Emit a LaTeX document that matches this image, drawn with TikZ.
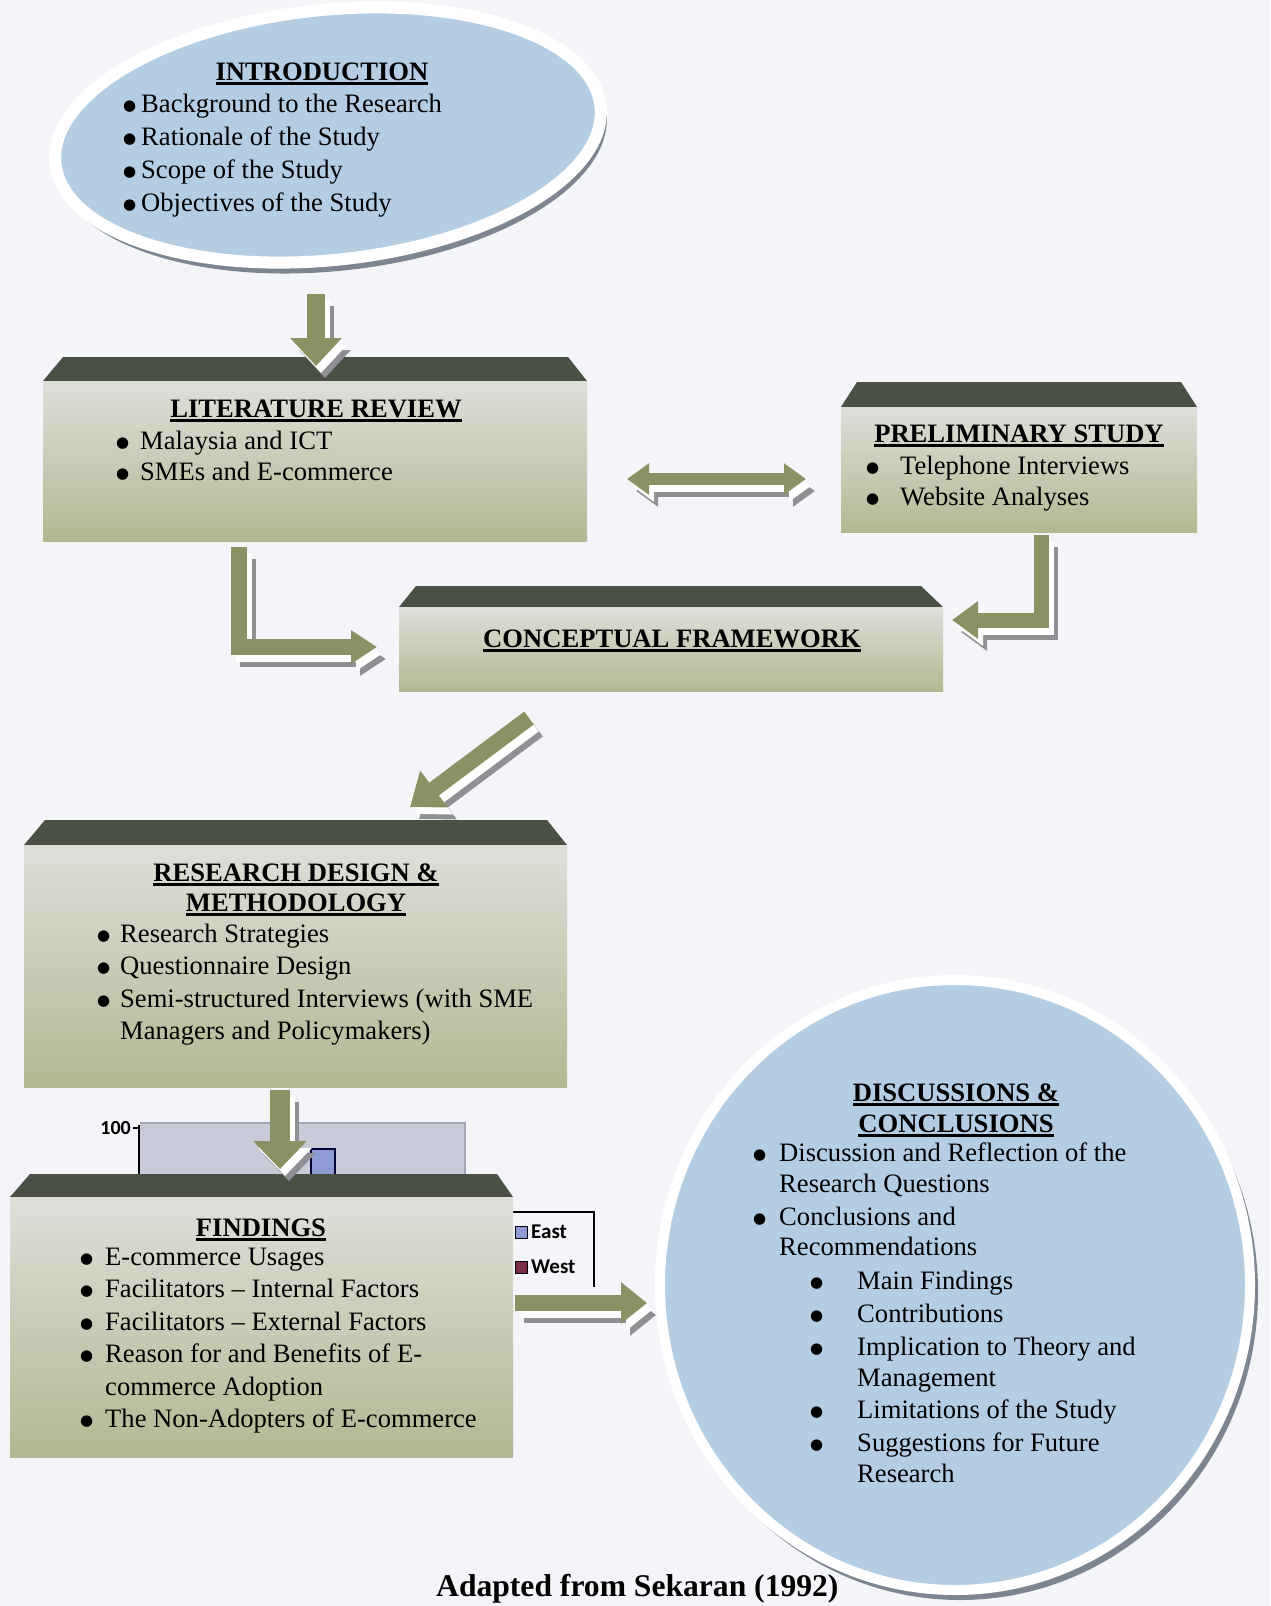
\documentclass[tikz,border=0pt]{standalone}
\usepackage{graphicx}
\usepackage{fontspec}
\setmainfont{Liberation Serif}
\newfontfamily\chartfont{Carlito}
\newfontfamily\symfont{DejaVu Sans}
\usetikzlibrary{arrows.meta,shapes.geometric,calc}
\definecolor{pagebg}{HTML}{F3F5F9}
\definecolor{ellfill}{HTML}{B5CDE3}
\definecolor{ellrim}{HTML}{7D8690}
\definecolor{bandc}{HTML}{4B5045}
\definecolor{faceT}{HTML}{DEDFDA}
\definecolor{faceB}{HTML}{B3B892}
\definecolor{arrowc}{HTML}{8A9263}
\definecolor{shadowc}{HTML}{8E9094}
\definecolor{plotc}{HTML}{C9CAD8}
\definecolor{plotedge}{HTML}{A4A6B8}
\definecolor{eastc}{HTML}{8F9BD4}
\definecolor{westc}{HTML}{7B2C48}
\newcommand\ulbox[1]{\setbox0\hbox{#1}\rlap{\rule[-4.5pt]{\wd0}{2.2pt}}\box0}
\newcommand\bul{{\symfont\fontsize{15}{15}\selectfont\raisebox{1.5pt}{●}}}
\newcommand\bevbox[8]{%
  \fill[bandc] (#4,#6) -- (#5,#6) -- (#3,#7) -- (#2,#7) -- cycle;
  \node[face, minimum width=#3pt-#2pt, minimum height=#8pt-#7pt, anchor=north west] (#1) at (#2,#7) {};}
\newcommand\bl[5]{\node[bt] (#1b) at (#2,#4) {\bul}; \node[txt] (#1) at (#3,#4) {#5};}
\newcommand\cl[4]{\node[txt] (#1) at (#2,#3) {#4};}
\newcommand\tl[4]{\node[ttl] (#1) at (#2,#3) {\ulbox{#4}};}
\newcommand\barrow[2]{%
  \draw[#1, shadowc, transform canvas={shift={(9,12)}}] #2;
  \draw[#1, white, transform canvas={shift={(5,7)}}] #2;
  \draw[#1, arrowc] #2;}
\tikzset{
  txt/.style={font=\fontsize{26.6}{32.8}\selectfont, inner sep=0pt, anchor=base west},
  bt/.style={inner sep=0pt, anchor=base west},
  ttl/.style={font=\fontsize{26.6}{32.8}\selectfont\bfseries, inner sep=0pt, anchor=base},
  face/.style={rectangle, inner sep=0pt, outer sep=0pt, top color=faceT, bottom color=faceB, draw=none},
  ba/.style n args={3}{line width=#1, line join=miter, -{Triangle[width=#2,length=#3]}},
  bad/.style n args={3}{line width=#1, {Triangle[width=#2,length=#3]}-{Triangle[width=#2,length=#3]}},
  chart/.style={font=\chartfont\bfseries\fontsize{21}{24}\selectfont, inner sep=0pt}
}
\begin{document}
\begin{tikzpicture}[x=1pt,y=-1pt]
\useasboundingbox (0,0) rectangle (1270,1606);
\clip (0,0) rectangle (1270,1606);
\fill[pagebg] (0,0) rectangle (1270,1606);

% chart fragment behind FINDINGS
\fill[plotc] (140,1123) rectangle (465,1200);
\draw[plotedge, line width=1.5pt] (140,1123) -- (465,1123) -- (465,1200);
\draw[black, line width=2pt] (139,1125) -- (139,1200);
\draw[black, line width=1.5pt] (133,1128) -- (139,1128);
\node[chart, anchor=east, font=\chartfont\bfseries\fontsize{20}{22}\selectfont] (lab100) at (131,1128) {100};
\node[chart, anchor=east, font=\chartfont\bfseries\fontsize{20}{22}\selectfont] (lab80) at (131,1182) {80};
\draw[fill=eastc, draw=black!80!blue, line width=2pt] (311,1149) rectangle (335,1180);
\draw[black, line width=2pt] (505,1212) -- (594,1212) -- (594,1287);
\draw[fill=eastc, draw=black, line width=1pt] (515,1226) rectangle (527,1238);
\draw[fill=westc, draw=black, line width=1pt] (515,1261) rectangle (527,1273);
\node[chart, anchor=west] (east) at (531,1232) {East};
\node[chart, anchor=west] (west) at (531,1267) {West};

% ellipses
\node[ellipse, fill=ellrim, minimum width=552pt, minimum height=258pt, rotate=6, inner sep=0pt] (introsh) at (332,142) {};
\node[ellipse, fill=ellfill, draw=white, line width=12pt, minimum width=548pt, minimum height=250pt, rotate=6, inner sep=0pt] (intro) at (328,135) {};
\node[ellipse, fill=ellrim, minimum width=596pt, minimum height=616pt, inner sep=0pt] (discsh) at (960,1292) {};
\node[ellipse, fill=ellfill, draw=white, line width=10pt, minimum width=590pt, minimum height=610pt, inner sep=0pt] (disc) at (955,1285) {};

% boxes: name, x1, x2, topx1, topx2, ytop, yband, ybottom
\bevbox{lit}{43}{587}{63}{568}{357}{381}{541}
\bevbox{pre}{841}{1197}{857}{1181}{382}{407}{532}
\bevbox{con}{399}{943}{416}{921}{586}{607}{691}
\bevbox{res}{24}{567}{45}{547}{820}{845}{1087}
\bevbox{fin}{10}{513}{30}{497}{1174}{1197}{1457}

% connectors
\coordinate (a1s) at (316,294); \coordinate (a1e) at (316,366);
\coordinate (a2s) at (627,479); \coordinate (a2e) at (806,479);
\coordinate (a3s) at (239,547); \coordinate (a3m) at (239,647); \coordinate (a3e) at (377,647);
\coordinate (a4s) at (1041,535); \coordinate (a4m) at (1041,620); \coordinate (a4e) at (952,620);
\coordinate (a5s) at (529,718); \coordinate (a5e) at (410,807);
\coordinate (a6s) at (280,1090); \coordinate (a6e) at (280,1169);
\coordinate (a7s) at (515,1303); \coordinate (a7e) at (647,1303);
\barrow{ba={18pt}{50pt}{28pt}}{(a1s) -- (a1e)}
\barrow{bad={12pt}{30pt}{22pt}}{(a2s) -- (a2e)}
\barrow{ba={16pt}{32pt}{26pt}}{(a3s) -- (a3m) -- (a3e)}
\barrow{ba={15pt}{36pt}{26pt}}{(a4s) -- (a4m) -- (a4e)}
\barrow{ba={16pt}{44pt}{30pt}}{(a5s) -- (a5e)}
\barrow{ba={20pt}{52pt}{28pt}}{(a6s) -- (a6e)}
\barrow{ba={16pt}{40pt}{26pt}}{(a7s) -- (a7e)}

% INTRODUCTION
\tl{introt}{322}{80}{INTRODUCTION}
\bl{i1}{123}{141}{112}{Background to the Research}
\bl{i2}{123}{141}{145}{Rationale of the Study}
\bl{i3}{123}{141}{178}{Scope of the Study}
\bl{i4}{123}{141}{211}{Objectives of the Study}

% LITERATURE REVIEW
\tl{litt}{316}{417}{LITERATURE REVIEW}
\bl{l1}{116}{140}{449}{Malaysia and ICT}
\bl{l2}{116}{140}{480}{SMEs and E-commerce}

% PRELIMINARY STUDY
\tl{pret}{1019}{442}{PRELIMINARY STUDY}
\bl{p1}{866}{900}{474}{Telephone Interviews}
\bl{p2}{866}{900}{505}{Website Analyses}

% CONCEPTUAL FRAMEWORK
\tl{cont}{672}{647}{CONCEPTUAL FRAMEWORK}

% RESEARCH DESIGN
\tl{rest1}{296}{881}{RESEARCH DESIGN \&}
\tl{rest2}{296}{911}{METHODOLOGY}
\bl{r1}{97}{120}{942}{Research Strategies}
\bl{r2}{97}{120}{974}{Questionnaire Design}
\bl{r3}{97}{120}{1007}{Semi-structured Interviews (with SME}
\cl{r4}{120}{1039}{Managers and Policymakers)}

% FINDINGS
\tl{fint}{261}{1236}{FINDINGS}
\bl{f1}{80}{105}{1265}{E-commerce Usages}
\bl{f2}{80}{105}{1297}{Facilitators – Internal Factors}
\bl{f3}{80}{105}{1330}{Facilitators – External Factors}
\bl{f4}{80}{105}{1362}{Reason for and Benefits of E-}
\cl{f5}{105}{1395}{commerce Adoption}
\bl{f6}{80}{105}{1427}{The Non-Adopters of E-commerce}

% DISCUSSIONS
\tl{dist1}{956}{1101}{DISCUSSIONS \&}
\tl{dist2}{956}{1132}{CONCLUSIONS}
\bl{d1}{753}{779}{1161}{Discussion and Reflection of the}
\cl{d2}{779}{1192}{Research Questions}
\bl{d3}{753}{779}{1225}{Conclusions and}
\cl{d4}{779}{1255}{Recommendations}
\bl{s1}{810}{857}{1289}{Main Findings}
\bl{s2}{810}{857}{1322}{Contributions}
\bl{s3}{810}{857}{1355}{Implication to Theory and}
\cl{s4}{857}{1386}{Management}
\bl{s5}{810}{857}{1418}{Limitations of the Study}
\bl{s6}{810}{857}{1451}{Suggestions for Future}
\cl{s7}{857}{1482}{Research}

% source line
\node[font=\fontsize{31.6}{36}\selectfont\bfseries, inner sep=0pt, anchor=base west] (src) at (436,1596) {Adapted from Sekaran (1992)};
\end{tikzpicture}
\end{document}
